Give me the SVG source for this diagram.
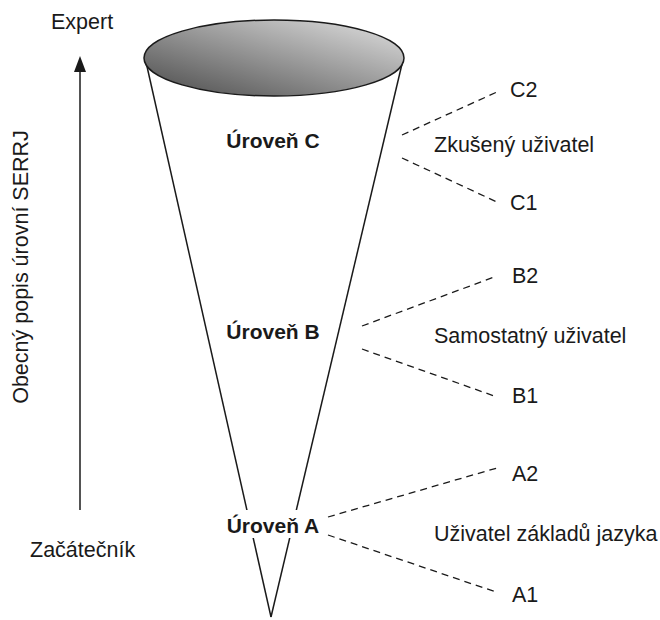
<svg xmlns="http://www.w3.org/2000/svg" width="660" height="620" viewBox="0 0 660 620">
<style>
.t{font-family:"Liberation Sans",Arial,sans-serif;font-size:21.5px;fill:#1a1a1a}
.b{font-family:"Liberation Sans",Arial,sans-serif;font-size:21px;font-weight:bold;fill:#1a1a1a;text-anchor:middle}
.cone{stroke:#1a1a1a;stroke-width:1.5;fill:none}
.dash{stroke:#1a1a1a;stroke-width:1.3;stroke-dasharray:7 5;fill:none}
</style>
<defs>
<linearGradient id="g" x1="0" y1="1" x2="1" y2="0">
<stop offset="0" stop-color="#4a4a4a"/>
<stop offset="1" stop-color="#e2e2e2"/>
</linearGradient>
</defs>
<g id="cone">
<line class="cone" x1="146" y1="62" x2="271" y2="617"/>
<line class="cone" x1="402" y1="64" x2="271" y2="617"/>
<ellipse cx="274" cy="58" rx="130" ry="38" fill="url(#g)" stroke="#1a1a1a" stroke-width="1.5"/>
</g>
<g id="axis">
<line x1="80" y1="510" x2="80" y2="70" stroke="#1a1a1a" stroke-width="1.5"/>
<path d="M74,72 L80,56 L86,72 Z" fill="#1a1a1a"/>
<text class="t" x="51" y="29">Expert</text>
<text class="t" x="30" y="557">Začátečník</text>
<text class="t" transform="translate(28,267) rotate(-90)" text-anchor="middle">Obecný popis úrovní SERRJ</text>
</g>
<g id="level-c">
<text class="b" x="273" y="148">Úroveň C</text>
<text class="t" x="434" y="152">Zkušený uživatel</text>
<text class="t" x="510" y="97">C2</text>
<text class="t" x="510" y="210">C1</text>
</g>
<g id="level-b">
<text class="b" x="273" y="339">Úroveň B</text>
<text class="t" x="434" y="343">Samostatný uživatel</text>
<text class="t" x="512" y="283">B2</text>
<text class="t" x="512" y="403">B1</text>
</g>
<g id="level-a">
<rect x="226" y="510" width="96" height="28" fill="#fff"/>
<text class="b" x="273" y="533">Úroveň A</text>
<text class="t" x="434" y="541">Uživatel základů jazyka</text>
<text class="t" x="512" y="481">A2</text>
<text class="t" x="512" y="602">A1</text>
</g>
<g id="connectors">
<line class="dash" x1="402" y1="135" x2="497" y2="92"/>
<line class="dash" x1="402" y1="158" x2="497" y2="202"/>
<line class="dash" x1="362" y1="326" x2="497" y2="276"/>
<line class="dash" x1="362" y1="349" x2="497" y2="397"/>
<line class="dash" x1="328" y1="517" x2="497" y2="468"/>
<line class="dash" x1="328" y1="535" x2="496" y2="592"/>
</g>
</svg>
